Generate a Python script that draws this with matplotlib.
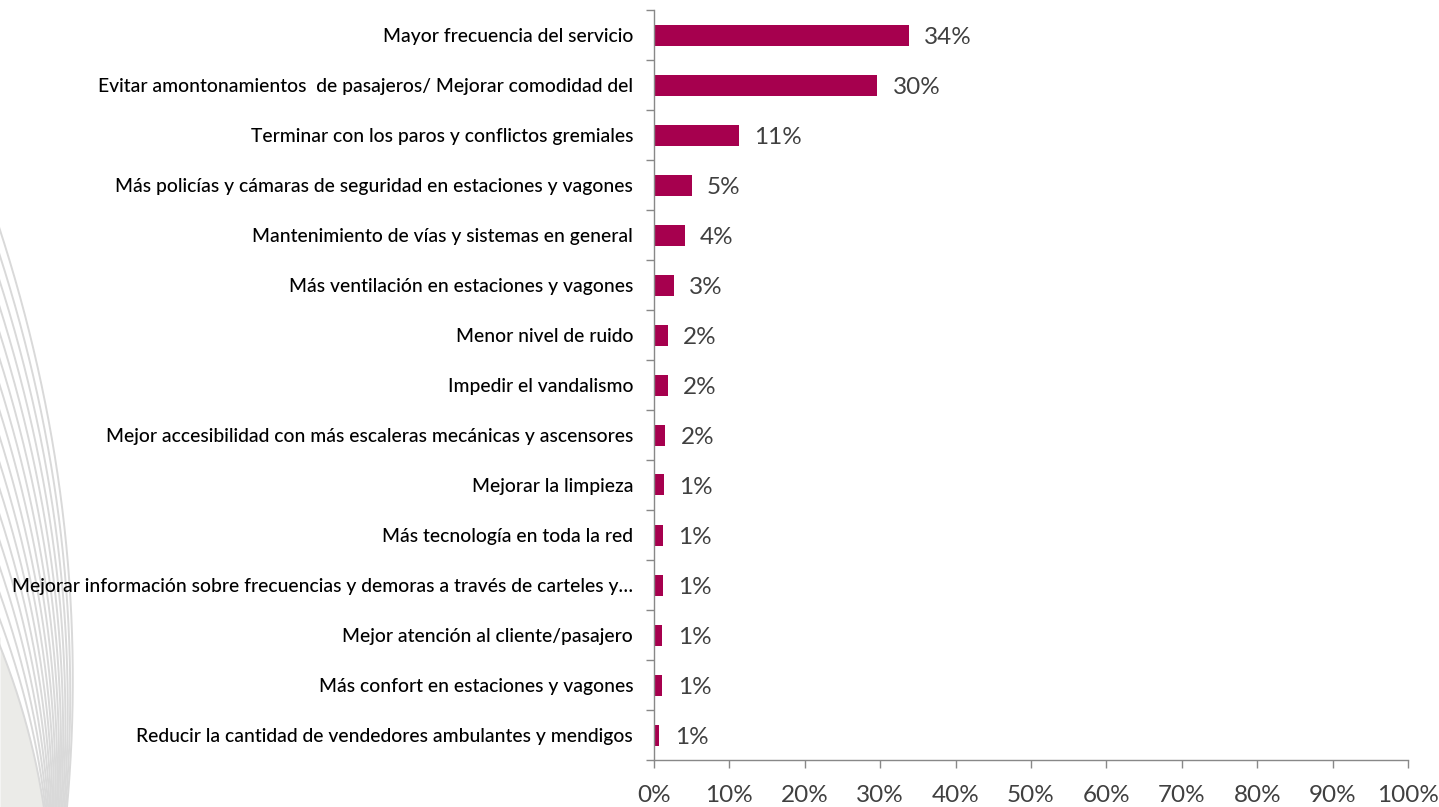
import numpy as np
import matplotlib
matplotlib.use("Agg")
import matplotlib.pyplot as plt

categories = [
    "Mayor frecuencia del servicio",
    "Evitar amontonamientos  de pasajeros/ Mejorar comodidad del",
    "Terminar con los paros y conflictos gremiales",
    "Más policías y cámaras de seguridad en estaciones y vagones",
    "Mantenimiento de vías y sistemas en general",
    "Más ventilación en estaciones y vagones",
    "Menor nivel de ruido",
    "Impedir el vandalismo",
    "Mejor accesibilidad con más escaleras mecánicas y ascensores",
    "Mejorar la limpieza",
    "Más tecnología en toda la red",
    "Mejorar información sobre frecuencias y demoras a través de carteles y…",
    "Mejor atención al cliente/pasajero",
    "Más confort en estaciones y vagones",
    "Reducir la cantidad de vendedores ambulantes y mendigos",
]
values = [33.8, 29.6, 11.3, 5.0, 4.1, 2.6, 1.8, 1.8, 1.5, 1.3, 1.2, 1.2, 1.1, 1.1, 0.7]
xticks = list(range(0, 101, 10))

plt.rcParams['font.family'] = ['Lato', 'DejaVu Sans']

fig = plt.figure(figsize=(14.39, 8.07), dpi=100)

# decorative fan of curves on the left edge (pixel coordinates)
bg = fig.add_axes([0, 0, 1, 1], zorder=0)
bg.set_xlim(0, 1439)
bg.set_ylim(807, 0)
bg.axis('off')
yy = np.linspace(100, 807, 400)
n_lines = 17
for i in range(n_lines):
    y_top = 230 + 26 * i
    xb = 67 - 1.45 * i
    ym = 680 + 14 * i
    k = xb / ((y_top - ym)**2 - (807 - ym)**2)
    xs = xb + k * (807 - ym)**2 - k * (yy - ym)**2
    xs = np.where(xs > -3, xs, np.nan)
    bg.plot(xs, yy, color='#d9d9d9', lw=1.4, solid_capstyle='butt')
    if i == n_lines - 1:
        bg.fill_betweenx(yy, 0, np.nan_to_num(xs), color='#ebebe8', lw=0)

ax = fig.add_axes([654 / 1439, 1 - 760 / 807, (1408 - 654) / 1439, 750 / 807], zorder=1)
ax.patch.set_alpha(0)

y = np.arange(len(categories))
ax.barh(y, values, height=0.42, color='#a6004e')
for yi, v in zip(y, values):
    ax.annotate(f"{round(v)}%", (v, yi), xytext=(11, 0), textcoords='offset points',
                va='center_baseline', ha='left', fontsize=17.5, color='#404040')

ax.set_xlim(0, 100)
ax.set_ylim(len(categories) - 0.5, -0.5)
ax.set_xticks(xticks)
ax.set_xticklabels([f"{t}%" for t in xticks], fontsize=17.5, color='#404040')
ax.set_yticks(y)
ax.set_yticklabels(categories, fontsize=13.9, color='black', fontweight='medium')
ax.set_yticks(np.arange(-0.5, len(categories), 1), minor=True)

ax.tick_params(axis='y', which='major', length=0, pad=15)
ax.tick_params(axis='y', which='minor', length=6, color='#888888', width=1)
ax.tick_params(axis='x', length=6, color='#888888', width=1, pad=12)

for side in ['top', 'right']:
    ax.spines[side].set_visible(False)
for side in ['left', 'bottom']:
    ax.spines[side].set_color('#888888')
    ax.spines[side].set_linewidth(1)

fig.savefig('out.png', dpi=100)
